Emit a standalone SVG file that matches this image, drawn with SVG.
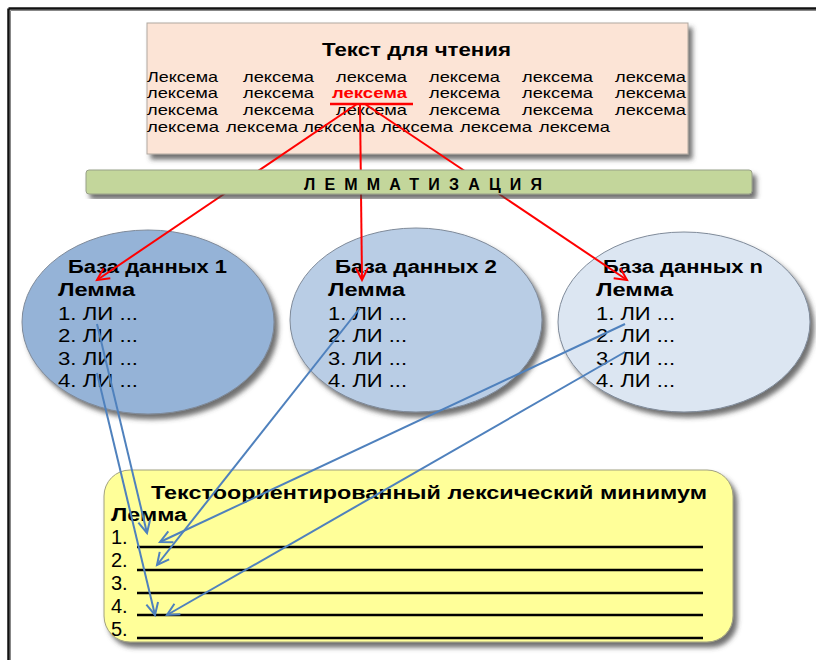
<svg xmlns="http://www.w3.org/2000/svg" width="816" height="660" viewBox="0 0 816 660">
<defs>
<filter id="sh" x="-10%" y="-10%" width="125%" height="130%">
<feDropShadow dx="4" dy="5" stdDeviation="2.5" flood-color="#404040" flood-opacity="0.75"/>
</filter>
<marker id="ar" markerUnits="userSpaceOnUse" markerWidth="16" markerHeight="16" refX="13" refY="8" orient="auto">
<path d="M1,2 L13,8 L1,14" fill="none" stroke="#ff0000" stroke-width="2"/>
</marker>
<marker id="ab" markerUnits="userSpaceOnUse" markerWidth="16" markerHeight="16" refX="13" refY="8" orient="auto">
<path d="M1,2 L13,8 L1,14" fill="none" stroke="#4f81bd" stroke-width="2"/>
</marker>
</defs>
<style>
text{font-family:"Liberation Sans",Arial,sans-serif;fill:#000}
.w{font-size:15px}
.b{font-weight:bold}
.t{font-size:18px;font-weight:bold}
.li{font-size:18px}
.num{font-size:20px}
.red{stroke:#ff0000;stroke-width:2;fill:none;marker-end:url(#ar)}
.blue{stroke:#4f81bd;stroke-width:2;fill:none;marker-end:url(#ab)}
.ul{stroke:#000;stroke-width:2.5}
</style>
<rect width="816" height="660" fill="#fff"/>
<g id="frame">
<line x1="8.5" y1="8.5" x2="816" y2="8.5" stroke="#111" stroke-width="2.5"/>
<line x1="8.5" y1="8.5" x2="8.5" y2="660" stroke="#111" stroke-width="2.5"/>
<line x1="10.5" y1="10.5" x2="816" y2="10.5" stroke="#888" stroke-width="1"/>
<line x1="10.5" y1="10.5" x2="10.5" y2="660" stroke="#888" stroke-width="1"/>
</g>
<g id="text-box">
<rect x="147" y="23" width="541" height="131" fill="#fce4d6" stroke="#b0a8a0" stroke-width="1" filter="url(#sh)"/>
<text x="322" y="56" class="t" textLength="189" lengthAdjust="spacingAndGlyphs">Текст для чтения</text>
<g class="w">
<text x="147" y="82" textLength="71" lengthAdjust="spacingAndGlyphs">Лексема</text>
<text x="243" y="82" textLength="71" lengthAdjust="spacingAndGlyphs">лексема</text>
<text x="336" y="82" textLength="71" lengthAdjust="spacingAndGlyphs">лексема</text>
<text x="429" y="82" textLength="71" lengthAdjust="spacingAndGlyphs">лексема</text>
<text x="522" y="82" textLength="71" lengthAdjust="spacingAndGlyphs">лексема</text>
<text x="615" y="82" textLength="71" lengthAdjust="spacingAndGlyphs">лексема</text>
<text x="147" y="98" textLength="71" lengthAdjust="spacingAndGlyphs">лексема</text>
<text x="243" y="98" textLength="71" lengthAdjust="spacingAndGlyphs">лексема</text>
<text x="332" y="98" textLength="75" lengthAdjust="spacingAndGlyphs" font-weight="bold" style="fill:#ff0000">лексема</text>
<text x="429" y="98" textLength="71" lengthAdjust="spacingAndGlyphs">лексема</text>
<text x="522" y="98" textLength="71" lengthAdjust="spacingAndGlyphs">лексема</text>
<text x="615" y="98" textLength="71" lengthAdjust="spacingAndGlyphs">лексема</text>
<text x="147" y="115" textLength="71" lengthAdjust="spacingAndGlyphs">лексема</text>
<text x="243" y="115" textLength="71" lengthAdjust="spacingAndGlyphs">лексема</text>
<text x="336" y="115" textLength="71" lengthAdjust="spacingAndGlyphs">лексема</text>
<text x="429" y="115" textLength="71" lengthAdjust="spacingAndGlyphs">лексема</text>
<text x="522" y="115" textLength="71" lengthAdjust="spacingAndGlyphs">лексема</text>
<text x="615" y="115" textLength="71" lengthAdjust="spacingAndGlyphs">лексема</text>
<text x="147" y="132" textLength="72" lengthAdjust="spacingAndGlyphs">лексема</text>
<text x="226" y="132" textLength="72" lengthAdjust="spacingAndGlyphs">лексема</text>
<text x="303" y="132" textLength="72" lengthAdjust="spacingAndGlyphs">лексема</text>
<text x="381" y="132" textLength="72" lengthAdjust="spacingAndGlyphs">лексема</text>
<text x="460" y="132" textLength="72" lengthAdjust="spacingAndGlyphs">лексема</text>
<text x="539" y="132" textLength="71" lengthAdjust="spacingAndGlyphs">лексема</text>
</g>
<line x1="330" y1="104" x2="413" y2="104" stroke="#ff0000" stroke-width="2.5"/>
</g>
<g id="db1">
<ellipse cx="148" cy="322" rx="126" ry="92" fill="#95b3d7" stroke="#7f8a99" stroke-width="1" filter="url(#sh)"/>
<text x="68" y="273" class="t" textLength="159" lengthAdjust="spacingAndGlyphs">База данных 1</text>
<text x="58" y="296" class="t" textLength="77" lengthAdjust="spacingAndGlyphs">Лемма</text>
<text x="58" y="320" class="li" textLength="80" lengthAdjust="spacingAndGlyphs">1. ЛИ ...</text>
<text x="58" y="342" class="li" textLength="80" lengthAdjust="spacingAndGlyphs">2. ЛИ ...</text>
<text x="58" y="365" class="li" textLength="80" lengthAdjust="spacingAndGlyphs">3. ЛИ ...</text>
<text x="58" y="387" class="li" textLength="80" lengthAdjust="spacingAndGlyphs">4. ЛИ ...</text>
</g>
<g id="db2">
<ellipse cx="416" cy="320" rx="126" ry="92" fill="#b9cde5" stroke="#7f8a99" stroke-width="1" filter="url(#sh)"/>
<text x="335" y="273" class="t" textLength="162" lengthAdjust="spacingAndGlyphs">База данных 2</text>
<text x="328" y="296" class="t" textLength="77" lengthAdjust="spacingAndGlyphs">Лемма</text>
<text x="328" y="320" class="li" textLength="79" lengthAdjust="spacingAndGlyphs">1. ЛИ ...</text>
<text x="328" y="342" class="li" textLength="79" lengthAdjust="spacingAndGlyphs">2. ЛИ ...</text>
<text x="328" y="365" class="li" textLength="79" lengthAdjust="spacingAndGlyphs">3. ЛИ ...</text>
<text x="328" y="387" class="li" textLength="79" lengthAdjust="spacingAndGlyphs">4. ЛИ ...</text>
</g>
<g id="dbn">
<ellipse cx="684" cy="322" rx="126" ry="90" fill="#dce6f2" stroke="#7f8a99" stroke-width="1" filter="url(#sh)"/>
<text x="603" y="273" class="t" textLength="160" lengthAdjust="spacingAndGlyphs">База данных n</text>
<text x="596" y="296" class="t" textLength="77" lengthAdjust="spacingAndGlyphs">Лемма</text>
<text x="596" y="320" class="li" textLength="79" lengthAdjust="spacingAndGlyphs">1. ЛИ ...</text>
<text x="596" y="342" class="li" textLength="79" lengthAdjust="spacingAndGlyphs">2. ЛИ ...</text>
<text x="596" y="365" class="li" textLength="79" lengthAdjust="spacingAndGlyphs">3. ЛИ ...</text>
<text x="596" y="387" class="li" textLength="79" lengthAdjust="spacingAndGlyphs">4. ЛИ ...</text>
</g>
<g id="minimum">
<rect x="104" y="470" width="629" height="172" rx="26" fill="#ffff99" stroke="#a0a080" stroke-width="1" filter="url(#sh)"/>
<text x="151" y="499" class="t" textLength="556" lengthAdjust="spacingAndGlyphs">Текстоориентированный лексический минимум</text>
<text x="111" y="521" class="t" textLength="76" lengthAdjust="spacingAndGlyphs">Лемма</text>
<text x="111" y="544" class="num">1.</text>
<text x="111" y="567" class="num">2.</text>
<text x="111" y="590" class="num">3.</text>
<text x="111" y="613" class="num">4.</text>
<text x="111" y="636" class="num">5.</text>
<line class="ul" x1="137" y1="547" x2="703" y2="547"/>
<line class="ul" x1="137" y1="570" x2="703" y2="570"/>
<line class="ul" x1="137" y1="593" x2="703" y2="593"/>
<line class="ul" x1="137" y1="615" x2="703" y2="615"/>
<line class="ul" x1="137" y1="638" x2="703" y2="638"/>
</g>
<g id="connectors">
<line class="red" x1="357" y1="104" x2="97" y2="280"/>
<line class="red" x1="360" y1="104" x2="362" y2="280"/>
<line class="red" x1="365" y1="104" x2="627" y2="280"/>
<line class="blue" x1="97" y1="324" x2="147" y2="533"/>
<line class="blue" x1="97" y1="373" x2="155" y2="615"/>
<line class="blue" x1="360" y1="308" x2="157" y2="565"/>
<line class="blue" x1="625" y1="324" x2="160" y2="542"/>
<line class="blue" x1="625" y1="352" x2="167" y2="615"/>
</g>
<g id="lemmatization">
<rect x="86" y="170" width="666" height="24" rx="3" fill="#c3d69b" stroke="#98a088" stroke-width="1" filter="url(#sh)"/>
<text x="304" y="190" class="b" font-size="16" textLength="238" lengthAdjust="spacing">ЛЕММАТИЗАЦИЯ</text>
</g>
</svg>
